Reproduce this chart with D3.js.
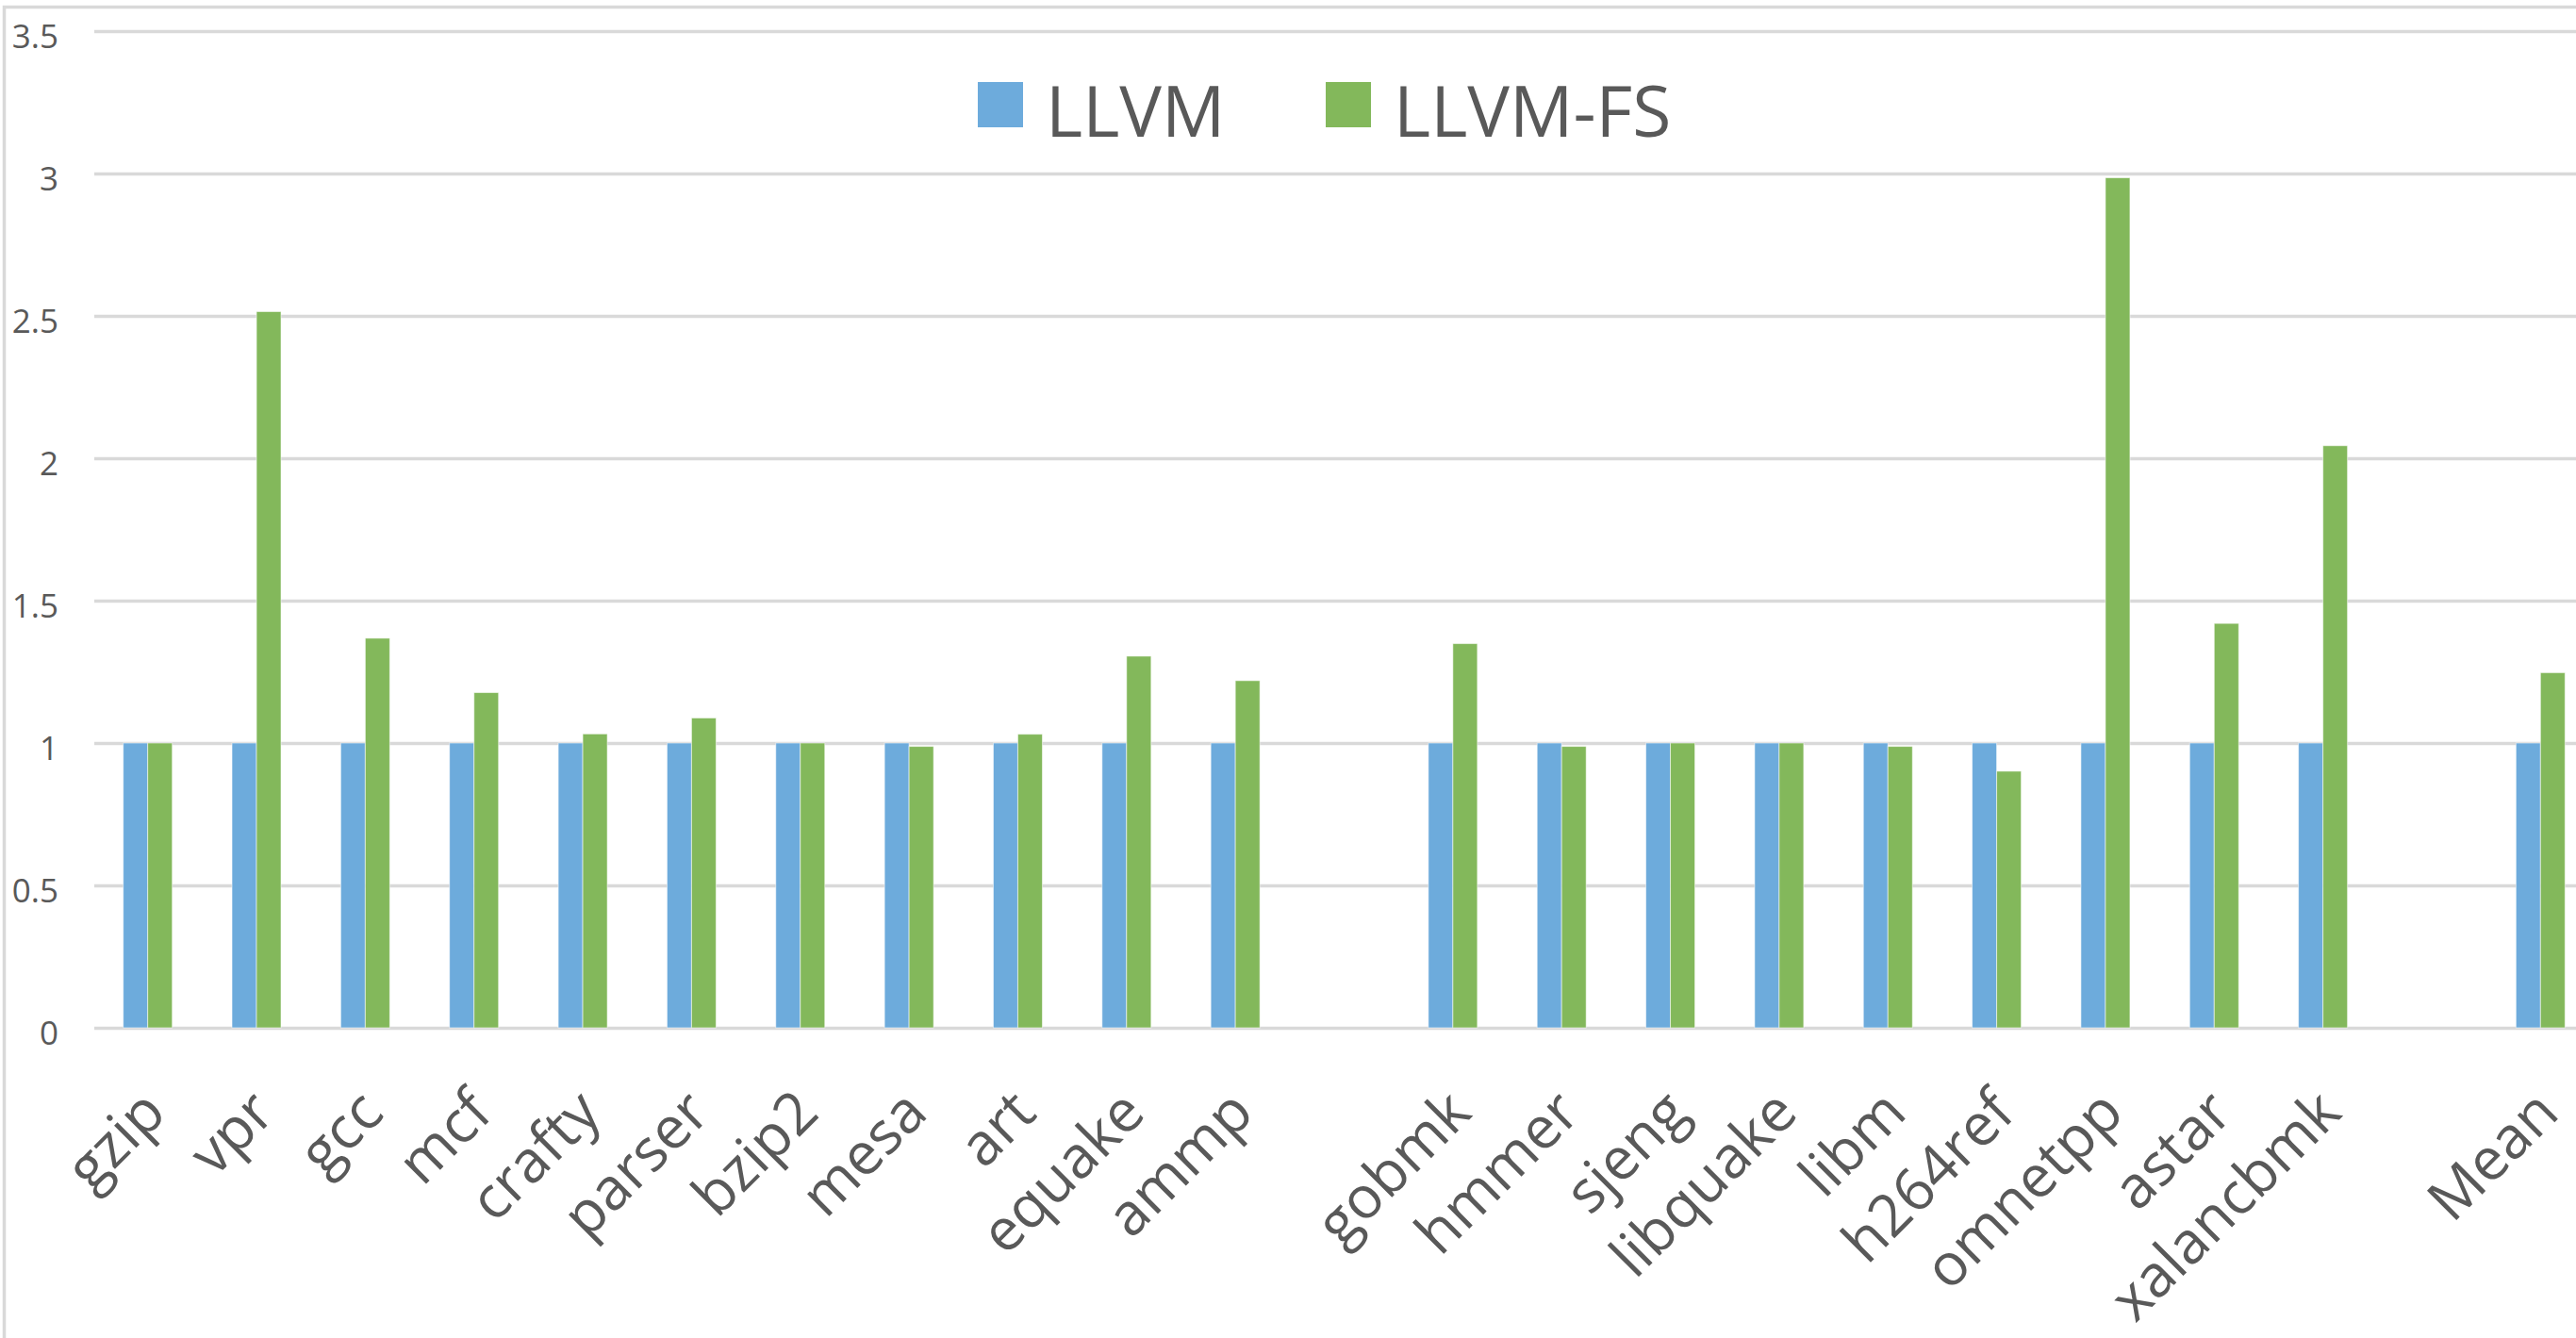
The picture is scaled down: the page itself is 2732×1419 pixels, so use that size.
<!DOCTYPE html>
<html><head><meta charset="utf-8">
<script src="https://cdn.jsdelivr.net/npm/d3@7"></script>
<style>html,body{margin:0;padding:0;background:#fff;overflow:hidden}</style>
</head><body>
<svg id="chart" width="2732" height="1419"></svg>
<script>
const categories = ["gzip","vpr","gcc","mcf","crafty","parser","bzip2","mesa","art","equake","ammp","",
  "gobmk","hmmer","sjeng","libquake","libm","h264ref","omnetpp","astar","xalancbmk","","Mean"];
const seriesNames = ["LLVM","LLVM-FS"];
const llvmValues   = [1,1,1,1,1,1,1,1,1,1,1,null,1,1,1,1,1,1,1,1,1,null,1];
const llvmFsValues = [1.0,2.515,1.368,1.177,1.032,1.088,1.0,0.988,1.031,1.305,1.219,null,
  1.349,0.988,1.0,1.0,0.988,0.901,2.985,1.420,2.044,null,1.247];
const yTicks = [0,0.5,1,1.5,2,2.5,3,3.5];
const colors = ["#6DABDC","#83B85B"];

const W = 2732, H = 1419;
const FONT = "'Open Sans', 'Noto Sans', sans-serif";
const TEXT = "#595959";
const GRID = "#d9d9d9";
const svg = d3.select("#chart");

// chart area border
svg.append("rect").attr("x",4.5).attr("y",7.5).attr("width",W+40).attr("height",H+40)
  .attr("fill","#fff").attr("stroke",GRID).attr("stroke-width",3.5);

const plotL = 99, plotR = 2752, yBase = 1090, yTop = 33;
const x = d3.scaleBand().domain(d3.range(categories.length)).range([plotL, plotR]);
const barW = 26;
const xSub = d3.scaleBand().domain(seriesNames).range([-barW, barW]);
const y = d3.scaleLinear().domain([0,3.5]).range([yBase, yTop]);

// y axis + gridlines
const gy = svg.append("g").attr("transform",`translate(${plotL+1},0)`)
  .call(d3.axisLeft(y).tickValues(yTicks).tickFormat(d=>String(d))
    .tickSize(-(plotR-plotL)).tickPadding(38));
gy.select(".domain").remove();
gy.selectAll(".tick line").attr("stroke",GRID).attr("stroke-width",3.5);
gy.selectAll(".tick text").attr("fill",TEXT).attr("dy","0.5em")
  .style("font-family",FONT).style("font-size","35px");

// bars
const data = categories.map((c,i)=>({i, c, vals:[llvmValues[i], llvmFsValues[i]]}))
  .filter(d=>d.c!=="");
const groups = svg.append("g").selectAll("g").data(data).join("g")
  .attr("transform",d=>`translate(${x(d.i)+x.bandwidth()/2},0)`);
groups.selectAll("rect").data(d=>seriesNames.map((s,k)=>({s,k,v:d.vals[k]}))).join("rect")
  .attr("x",d=>xSub(d.s)).attr("width",xSub.bandwidth())
  .attr("y",d=>y(d.v)).attr("height",d=>y(0)-y(d.v))
  .attr("fill",d=>colors[d.k])
  .attr("stroke","rgba(255,255,255,0.55)").attr("stroke-width",1);

// x axis labels
const gx = svg.append("g").attr("transform",`translate(0,${yBase})`)
  .call(d3.axisBottom(x).tickFormat(i=>categories[i]).tickSize(0));
gx.select(".domain").remove();
gx.selectAll(".tick text")
  .attr("y",0).attr("dy",0)
  .attr("transform","translate(22,93) rotate(-45)")
  .attr("text-anchor","end").attr("fill",TEXT)
  .style("font-family",FONT).style("font-size","62px");

// legend
const legX = 1037, legStep = 369, legY = 87, sw = 48;
const leg = svg.append("g").selectAll("g").data(seriesNames).join("g")
  .attr("transform",(d,k)=>`translate(${legX+k*legStep},${legY})`);
leg.append("rect").attr("width",sw).attr("height",sw).attr("fill",(d,k)=>colors[k]);
leg.append("text").attr("x",72).attr("y",58).attr("fill",TEXT)
  .style("font-family",FONT).style("font-size","75px").text(d=>d);
</script>
</body></html>
